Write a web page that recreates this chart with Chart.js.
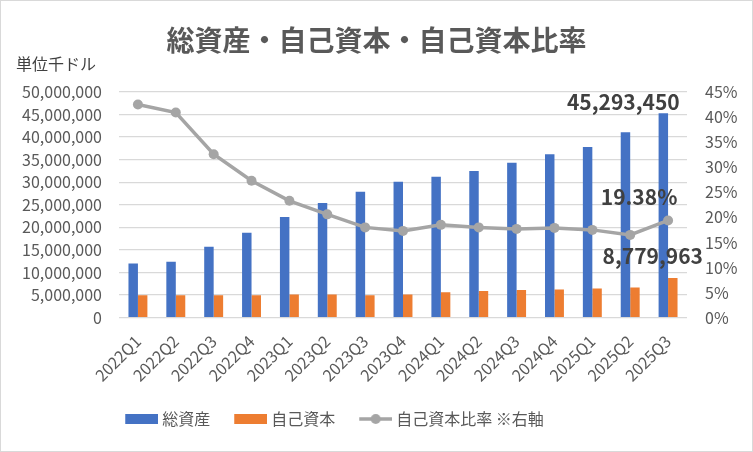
<!DOCTYPE html>
<html lang="ja">
<head>
<meta charset="utf-8">
<script src="https://cdn.jsdelivr.net/npm/chart.js@4.4.1/dist/chart.umd.min.js"></script>
<style>
	body { margin: 0; background: #fff; }
	#wrap { position: relative; width: 753px; height: 452px; box-sizing: border-box; border: 1px solid #d9d9d9; }
</style>
</head>
<body>
<div id="wrap"><canvas id="myChart"></canvas></div>
<script>
const categories = ['2022Q1', '2022Q2', '2022Q3', '2022Q4', '2023Q1', '2023Q2', '2023Q3', '2023Q4',
	'2024Q1', '2024Q2', '2024Q3', '2024Q4', '2025Q1', '2025Q2', '2025Q3'];
const totalAssets = [12000000, 12400000, 15700000, 18800000, 22300000, 25400000, 27900000, 30100000,
	31200000, 32500000, 34300000, 36200000, 37800000, 41100000, 45293450];
const equity = [4950000, 4950000, 4950000, 4950000, 5100000, 5100000, 4950000, 5100000,
	5600000, 5900000, 6100000, 6250000, 6450000, 6700000, 8779963];
const equityRatio = [42.5, 40.9, 32.6, 27.3, 23.3, 20.6, 18.0, 17.3, 18.5, 18.0, 17.7, 17.9, 17.5, 16.5, 19.38];

const seriesNames = ['総資産', '自己資本', '自己資本比率 ※右軸'];
const titleText = '総資産・自己資本・自己資本比率';
const unitText = '単位千ドル';

const JP = '"Noto Sans CJK JP", "Noto Sans", sans-serif';
const textGray = '#595959';

// legend marks: drawn 33px wide, offset so the text sits ~4px after them
function legendIcon(color, isLine) {
	let c = document.createElement('canvas');
	c.width = 37; c.height = 12;
	let g = c.getContext('2d');
	g.fillStyle = color;
	g.strokeStyle = color;
	if (isLine) {
		g.lineWidth = 3.5;
		g.beginPath(); g.moveTo(4, 6); g.lineTo(37, 6); g.stroke();
		g.beginPath(); g.arc(20.5, 6, 5, 0, Math.PI * 2); g.fill();
	} else {
		g.fillRect(4, 1, 33, 10);
	}
	return c;
}

// value labels on the last quarter
const lastLabels = {
	id: 'lastLabels',
	afterDatasetsDraw(chart) {
		const ctx = chart.ctx;
		const last = categories.length - 1;
		const bar0 = chart.getDatasetMeta(0).data[last];
		const bar1 = chart.getDatasetMeta(1).data[last];
		const pt = chart.getDatasetMeta(2).data[last];
		ctx.save();
		ctx.fillStyle = '#404040';
		ctx.font = 'bold 21px ' + JP;
		ctx.textBaseline = 'middle';
		ctx.textAlign = 'center';
		ctx.fillText(totalAssets[last].toLocaleString('en-US'), bar0.x - 40, bar0.y - 11);
		ctx.fillText(equityRatio[last].toFixed(2) + '%', pt.x - 29, pt.y - 23);
		ctx.fillText(equity[last].toLocaleString('en-US'), bar1.x - 20, bar1.y - 22);
		ctx.restore();
	}
};

// the legend in the reference sits a bit left of centre
const legendShift = {
	id: 'legendShift',
	afterLayout(chart) {
		chart.legend.left -= 42;
		chart.legend.right -= 42;
	}
};

const canvas = document.getElementById('myChart').getContext('2d');

const config = {
	type: 'bar',
	data: {
		labels: categories,
		datasets: [
			{
				label: seriesNames[0],
				data: totalAssets,
				backgroundColor: '#4472C4',
				yAxisID: 'y',
				categoryPercentage: 0.5,
				barPercentage: 1.0,
				order: 1,
			},
			{
				label: seriesNames[1],
				data: equity,
				backgroundColor: '#ED7D31',
				yAxisID: 'y',
				categoryPercentage: 0.5,
				barPercentage: 1.0,
				order: 1,
			},
			{
				type: 'line',
				label: seriesNames[2],
				data: equityRatio,
				borderColor: '#A5A5A5',
				backgroundColor: '#A5A5A5',
				borderWidth: 3.5,
				pointRadius: 5,
				pointBackgroundColor: '#A5A5A5',
				pointBorderWidth: 0,
				tension: 0,
				yAxisID: 'y1',
				order: 0,
			},
		],
	},
	options: {
		responsive: true,
		maintainAspectRatio: false,
		animation: false,
		layout: { padding: { left: 15, right: 15, top: 5, bottom: 14 } },
		plugins: {
			title: {
				display: true,
				text: titleText,
				color: textGray,
				font: { family: JP, size: 28, weight: 'bold', lineHeight: 1 },
				padding: { top: 20, bottom: 0 },
			},
			subtitle: {
				display: true,
				text: unitText,
				align: 'start',
				color: '#404040',
				font: { family: JP, size: 16, lineHeight: 1 },
				padding: { top: 2, bottom: 20 },
			},
			legend: {
				position: 'bottom',
				labels: {
					usePointStyle: true,
					pointStyleWidth: 29,
					boxHeight: 10,
					padding: 24,
					color: textGray,
					font: { family: JP, size: 16 },
					generateLabels: function (chart) {
						return chart.data.datasets.map((ds, i) => ({
							text: ds.label,
							fillStyle: ds.backgroundColor,
							strokeStyle: ds.backgroundColor,
							lineWidth: 0,
							fontColor: textGray,
							pointStyle: legendIcon(ds.backgroundColor, ds.type === 'line'),
							datasetIndex: i,
							hidden: false,
						}));
					},
				},
			},
			tooltip: { enabled: false },
		},
		scales: {
			x: {
				grid: { display: false },
				border: { display: false },
				ticks: {
					color: textGray,
					font: { family: JP, size: 16 },
					minRotation: 45,
					maxRotation: 45,
					padding: 6,
				},
				afterFit: function (scale) { scale.height -= 4; },
			},
			y: {
				position: 'left',
				min: 0,
				max: 50000000,
				border: { display: false },
				grid: { color: '#d9d9d9', lineWidth: 1.3, drawTicks: false },
				ticks: {
					stepSize: 5000000,
					autoSkip: false,
					color: textGray,
					font: { family: JP, size: 16 },
					padding: 17,
					callback: function (value) {
						return value.toLocaleString('en-US');
					},
				},
				afterFit: function (scale) { scale.width = 103; },
			},
			y1: {
				position: 'right',
				min: 0,
				max: 45,
				border: { display: false },
				grid: { display: false, drawTicks: false },
				ticks: {
					stepSize: 5,
					autoSkip: false,
					color: textGray,
					font: { family: JP, size: 16 },
					padding: 18,
					callback: function (value) {
						return value + '%';
					},
				},
				afterFit: function (scale) { scale.width = 50; },
			},
		},
	},
	plugins: [lastLabels, legendShift],
};

let myChart = new Chart(canvas, config);
</script>
</body>
</html>
